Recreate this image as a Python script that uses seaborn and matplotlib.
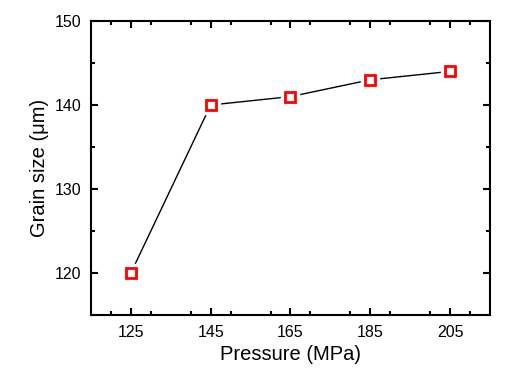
import matplotlib
matplotlib.use("Agg")
import matplotlib.pyplot as plt
import seaborn as sns
import pandas as pd
from matplotlib.ticker import MultipleLocator

pressure = [125, 145, 165, 185, 205]
grain_size = [120, 140, 141, 143, 144]
x_ticks = [125, 145, 165, 185, 205]
y_ticks = [120, 130, 140, 150]

df = pd.DataFrame({"Pressure": pressure, "Grain": grain_size})

sns.set_style("ticks")
plt.rcParams['font.family'] = ['Liberation Sans', 'DejaVu Sans']
plt.rcParams['text.color'] = 'black'
plt.rcParams['axes.labelcolor'] = 'black'
plt.rcParams['xtick.color'] = 'black'
plt.rcParams['ytick.color'] = 'black'

fig = plt.figure(figsize=(5.15, 3.76), dpi=100)
ax = fig.add_axes([91/515, 1-315/376, (490-91)/515, (315-21)/376])

sns.lineplot(data=df, x="Pressure", y="Grain", ax=ax, color="black", linewidth=1.0)
ax.plot(df["Pressure"], df["Grain"], linestyle="none", marker="s", markersize=13,
        markerfacecolor="white", markeredgecolor="white", zorder=3)
ax.plot(df["Pressure"], df["Grain"], linestyle="none", marker="s", markersize=7,
        markerfacecolor="white", markeredgecolor="red", markeredgewidth=2.0, zorder=4)

ax.set_xlim(115, 215)
ax.set_ylim(115, 150)
ax.set_xticks(x_ticks)
ax.set_yticks(y_ticks)
ax.xaxis.set_minor_locator(MultipleLocator(10))
ax.yaxis.set_minor_locator(MultipleLocator(5))
ax.tick_params(which="both", direction="in", top=True, right=True, width=1.5,
               labelsize=11.5, color="black", labelcolor="black")
ax.tick_params(which="major", length=5, pad=7)
ax.tick_params(which="minor", length=3)
for s in ax.spines.values():
    s.set_linewidth(1.5)
    s.set_color("black")
ax.set_xlabel("Pressure (MPa)", fontsize=14.5, labelpad=4, color="black")
ax.set_ylabel("Grain size (\u03bcm)", fontsize=14.5, labelpad=4, color="black")

fig.savefig("out.png", dpi=100)
